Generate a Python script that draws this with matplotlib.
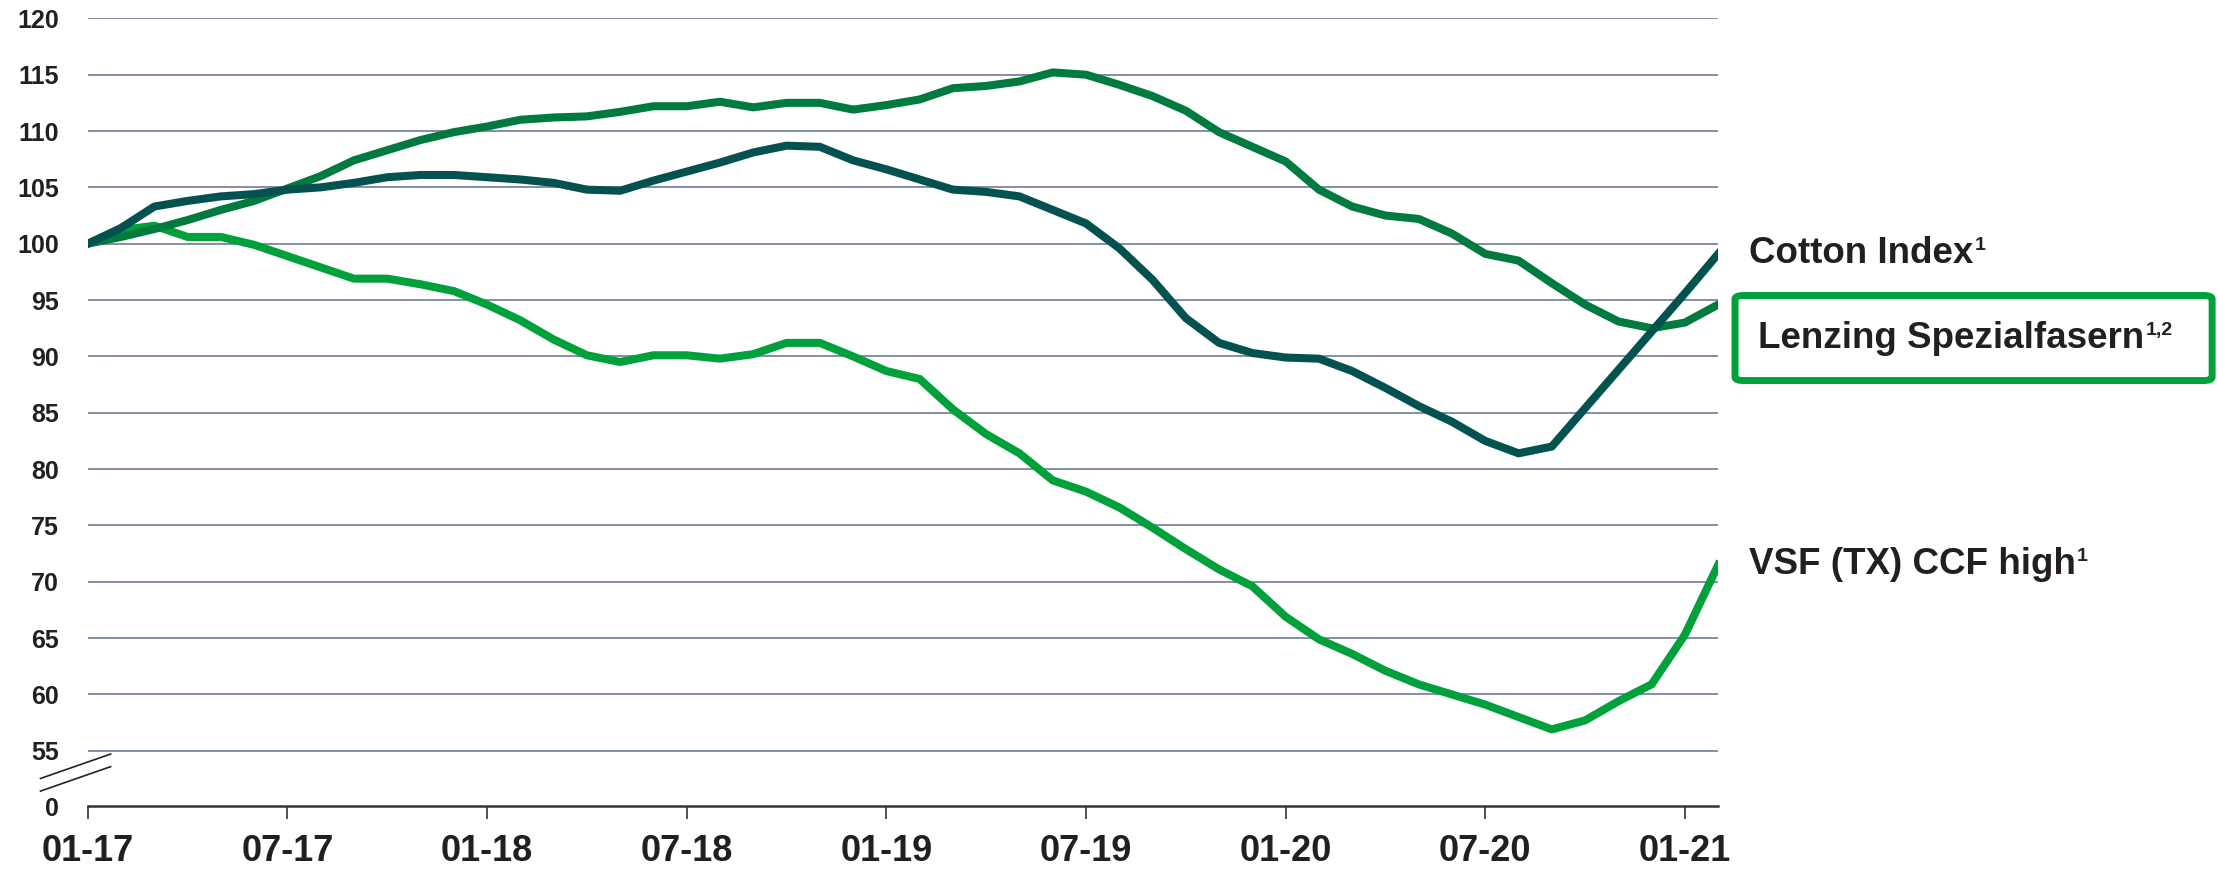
import matplotlib
matplotlib.use("Agg")
import matplotlib.pyplot as plt
from matplotlib.patches import FancyBboxPatch

plt.rcParams['font.family'] = ['Liberation Sans', 'DejaVu Sans']
plt.rcParams['font.weight'] = 'bold'

# monthly index values, 01-17 .. 02-21
months = list(range(50))
cotton = [100, 101.4, 103.3, 103.8, 104.2, 104.4, 104.8, 105.0, 105.4, 105.9,
          106.1, 106.1, 105.9, 105.7, 105.4, 104.8, 104.7, 105.6, 106.4, 107.2,
          108.1, 108.7, 108.6, 107.4, 106.6, 105.7, 104.8, 104.6, 104.2, 103.0,
          101.8, 99.6, 96.8, 93.4, 91.2, 90.3, 89.9, 89.8, 88.7, 87.2,
          85.6, 84.2, 82.5, 81.4, 82.0, 85.4, 88.8, 92.2, 95.6, 99.1]
lenzing = [100, 100.6, 101.3, 102.1, 103.0, 103.8, 104.9, 106.0, 107.4, 108.3,
           109.2, 109.9, 110.4, 111.0, 111.2, 111.3, 111.7, 112.2, 112.2, 112.6,
           112.1, 112.5, 112.5, 111.9, 112.3, 112.8, 113.8, 114.0, 114.4, 115.2,
           115.0, 114.1, 113.1, 111.8, 109.9, 108.6, 107.3, 104.8, 103.3, 102.5,
           102.2, 100.9, 99.1, 98.5, 96.5, 94.6, 93.1, 92.5, 93.0, 94.6]
vsf = [100, 101.2, 101.6, 100.6, 100.6, 99.9, 98.9, 97.9, 96.9, 96.9,
       96.4, 95.8, 94.6, 93.2, 91.5, 90.1, 89.5, 90.1, 90.1, 89.8,
       90.2, 91.2, 91.2, 90.0, 88.7, 88.0, 85.3, 83.1, 81.4, 79.0,
       78.0, 76.6, 74.8, 72.9, 71.1, 69.6, 66.9, 64.9, 63.6, 62.1,
       60.9, 60.0, 59.1, 58.0, 56.9, 57.7, 59.4, 60.9, 65.3, 71.5]

xtick_pos = [0, 6, 12, 18, 24, 30, 36, 42, 48]
xtick_labels = ['01-17', '07-17', '01-18', '07-18', '01-19', '07-19', '01-20', '07-20', '01-21']
ytick_vals = [55, 60, 65, 70, 75, 80, 85, 90, 95, 100, 105, 110, 115, 120]
y_zero = 50.1  # where the "0" sits below the axis break

c_cotton = '#03524f'
c_lenzing = '#007a3e'
c_vsf = '#00a03a'
c_text = '#231f20'

fig = plt.figure(figsize=(22.17, 8.73), dpi=100)
ax = fig.add_axes([0.0396, 0.0767, 0.7354, 0.9023])

for v in ytick_vals:
    ax.axhline(v, color='#7886a0', lw=1.3, zorder=1)

ax.plot(months, vsf, color=c_vsf, lw=5.8, zorder=3)
ax.plot(months, lenzing, color=c_lenzing, lw=5.8, zorder=4)
ax.plot(months, cotton, color=c_cotton, lw=5.8, zorder=5)

ax.set_xlim(0, 49)
ax.set_ylim(y_zero, 120)
ax.set_xticks(xtick_pos)
ax.set_xticklabels(xtick_labels, fontsize=26, fontweight='bold', color=c_text)
ax.set_yticks([y_zero] + ytick_vals)
ax.set_yticklabels(['0'] + [str(v) for v in ytick_vals], fontsize=18, fontweight='bold', color=c_text)
ax.tick_params(axis='y', length=0, pad=21)
ax.tick_params(axis='x', length=9, width=1.2, color='#333333', pad=11, direction='out')

for s in ['left', 'right', 'top']:
    ax.spines[s].set_visible(False)
ax.spines['bottom'].set_color('#333333')
ax.spines['bottom'].set_linewidth(1.8)

# axis break marks
ax.plot([-0.029, 0.014], [0.035, 0.066], transform=ax.transAxes, color='#222222', lw=1.2, clip_on=False)
ax.plot([-0.029, 0.014], [0.019, 0.050], transform=ax.transAxes, color='#222222', lw=1.2, clip_on=False)


def end_label(text, sup, y, dx, dy):
    t = ax.annotate(text, xy=(months[-1], y), xytext=(dx, dy),
                    textcoords='offset points', ha='left', va='center', fontsize=26.5,
                    fontweight='bold', color=c_text, annotation_clip=False)
    ax.annotate(sup, xy=(1.0, 0.98), xycoords=t, xytext=(1, 0), textcoords='offset points',
                ha='left', va='top', fontsize=14, fontweight='bold', color=c_text,
                annotation_clip=False)


end_label('Cotton Index', '1', cotton[-1], 22, 0)
end_label('VSF (TX) CCF high', '1', vsf[-1], 22, 0)
end_label('Lenzing Spezialfasern', '1,2', lenzing[-1], 29, -24.5)

box = FancyBboxPatch((0.7826, 0.5641), 0.2152, 0.0974, boxstyle='round,pad=0,rounding_size=0.004',
                     transform=fig.transFigure, facecolor='none', edgecolor=c_vsf, lw=5)
fig.patches.append(box)

fig.savefig('out.png', dpi=100)
